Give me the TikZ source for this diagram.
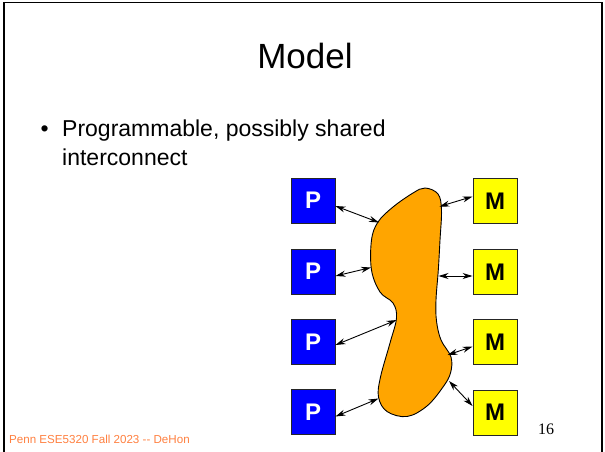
\documentclass[tikz,border=0pt]{standalone}
\usepackage{fontspec}
\setmainfont{Liberation Sans}
\newfontfamily\serifnum{Liberation Serif}
\usetikzlibrary{arrows.meta}
\definecolor{netorange}{RGB}{255,165,0}
\definecolor{footorange}{RGB}{255,128,64}
\definecolor{pblue}{RGB}{0,0,255}
\definecolor{myellow}{RGB}{255,255,0}
\tikzset{
  unitbox/.style={draw=black!85, line width=0.9pt, minimum width=44pt, minimum height=45pt, inner sep=0pt, font=\fontsize{24}{24}\selectfont\bfseries},
  procbox/.style={unitbox, fill=pblue, text=white},
  membox/.style={unitbox, fill=myellow, text=black},
  link/.style={line width=0.9pt, {Stealth[length=10pt,width=6pt]}-{Stealth[length=10pt,width=6pt]}},
  frameline/.style={line width=1.7pt, black}
}
\begin{document}
\begin{tikzpicture}[x=1pt, y=-1pt]
\useasboundingbox (0,0) rectangle (605,451);

% slide frame
\draw[frameline] (4,452) -- (4,2.5) -- (602,2.5) -- (602,452);

% title and bullet
\node[anchor=base, font=\fontsize{35}{40}\selectfont] (title) at (305,68) {Model};
\node[anchor=base west, font=\fontsize{23}{28}\selectfont] (dot) at (37,136) {•};
\node[anchor=base west, font=\fontsize{23}{28}\selectfont, inner sep=0pt] (line1) at (62,136) {Programmable, possibly shared};
\node[anchor=base west, font=\fontsize{23}{28}\selectfont, inner sep=0pt] (line2) at (62,165) {interconnect};

% shared interconnect region
\draw[fill=netorange, line width=0.9pt] plot[smooth cycle, tension=0.6] coordinates {
  (425,188) (438,194) (441.5,210) (440,240) (438.3,270) (436,300) (436.5,321)
  (441,340) (451,357) (450.5,373) (443,387) (427,406) (407,416.5) (387,411.5)
  (378.5,397) (380.5,377) (390,343) (396.5,318) (393,303) (380,292) (371.5,270)
  (371.5,240) (378,222) (393,207) (413,193)};

% attachment points on the region
\coordinate (b1) at (379,222.5);
\coordinate (b2) at (371,267.5);
\coordinate (b3) at (396.5,320);
\coordinate (b4) at (378.5,398.5);
\coordinate (c1) at (439.5,206.5);
\coordinate (c2) at (438.5,276);
\coordinate (c3) at (447.5,355);
\coordinate (c4) at (449,381);

% processors
\node[procbox] (p1) at (313,200.5) {P};
\node[procbox] (p2) at (313,271.5) {P};
\node[procbox] (p3) at (313,342) {P};
\node[procbox] (p4) at (313,412) {P};

% memories
\node[membox] (m1) at (495,201) {M};
\node[membox] (m2) at (495,272) {M};
\node[membox] (m3) at (495,342) {M};
\node[membox] (m4) at (495,412.5) {M};

% links
\draw[link] ([yshift=-5.5pt]p1.east) -- (b1);
\draw[link] ([yshift=-4.5pt]p2.east) -- (b2);
\draw[link] ([yshift=-3pt]p3.east) -- (b3);
\draw[link] ([yshift=-4.5pt]p4.east) -- (b4);
\draw[link] ([yshift=4.5pt]m1.west) -- (c1);
\draw[link] ([yshift=-4pt]m2.west) -- (c2);
\draw[link] ([yshift=-4.5pt]m3.west) -- (c3);
\draw[link] ([yshift=6.5pt]m4.west) -- (c4);

% footer and page number
\node[anchor=base west, inner sep=0pt, text=footorange, font=\fontsize{11.6}{12}\selectfont] (foot) at (9,443) {Penn ESE5320 Fall 2023 -{}- DeHon};
\node[anchor=base west, inner sep=0pt, font=\serifnum\fontsize{16}{16}\selectfont] (pnum) at (538,434) {16};
\end{tikzpicture}
\end{document}
